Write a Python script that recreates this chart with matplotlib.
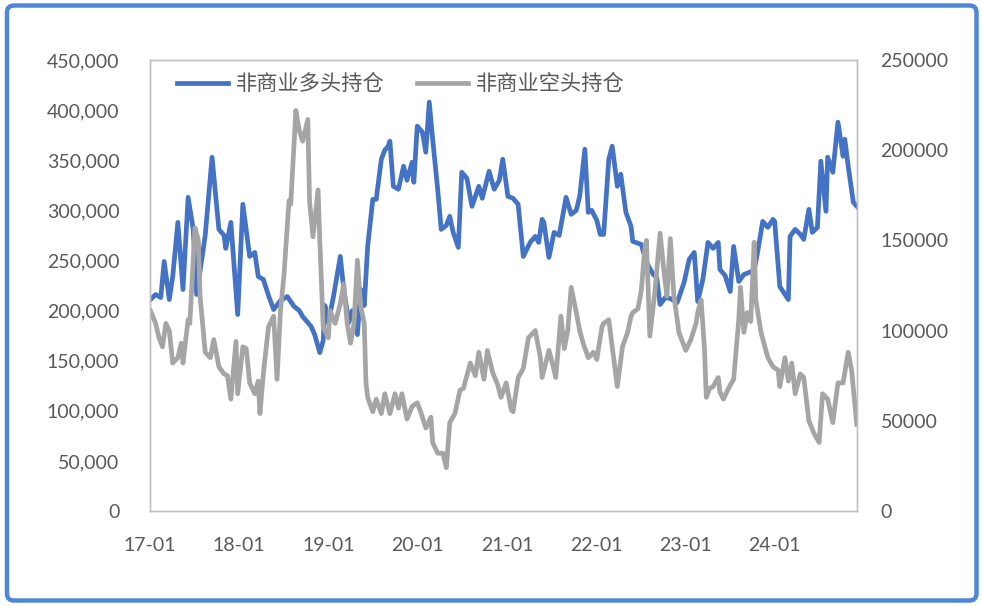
import numpy as np
import pandas as pd
import matplotlib
matplotlib.use("Agg")
import matplotlib.pyplot as plt
import matplotlib.dates as mdates
from matplotlib.ticker import FuncFormatter
from matplotlib.lines import Line2D
from matplotlib.patches import FancyBboxPatch

# Weekly report dates are counted in weeks from the first report
start_date = "2017-01-03"

# Non-commercial long positions (contracts)
long_weeks = [0, 3, 6, 8, 11, 13, 16, 19, 22, 25, 27, 32, 36, 40, 43, 44, 47, 51, 54, 58,
              61, 63, 66, 69, 72, 76, 80, 84, 87, 89, 94, 96, 99, 101, 102, 104, 107, 111, 113, 116,
              118, 121, 123, 125, 127, 130, 132, 135, 137, 139, 140, 142, 145, 148, 150, 153, 154, 156, 159, 161,
              163, 165, 168, 170, 173, 175, 177, 180, 182, 185, 188, 192, 194, 198, 201, 204, 206, 209, 212, 215,
              218, 222, 225, 227, 229, 230, 233, 236, 239, 243, 246, 249, 251, 254, 256, 258, 261, 263, 265, 268,
              270, 273, 275, 278, 281, 282, 287, 290, 294, 296, 298, 301, 304, 308, 312, 315, 318, 320, 323, 326,
              329, 332, 333, 336, 339, 341, 344, 347, 350, 353, 355, 358, 361, 364, 365, 368, 373, 374, 377, 380,
              382, 385, 387, 390, 392, 395, 396, 399, 402, 405, 406, 408, 411, 413]
long_positions = [211000, 216000, 213000, 249000, 211000, 234000, 288000, 221000, 313000, 281000,
                  216000, 275000, 353000, 281000, 275000, 262000, 288000, 196000, 306000, 254000,
                  258000, 234000, 231000, 215000, 201000, 210000, 214000, 204000, 200000, 194000,
                  184000, 176000, 158000, 170000, 205000, 188000, 214000, 254000, 221000, 188000,
                  200000, 176000, 221000, 205000, 264000, 311000, 311000, 351000, 360000, 364000,
                  369000, 324000, 321000, 344000, 330000, 348000, 328000, 384000, 378000, 358000,
                  408000, 371000, 320000, 281000, 285000, 294000, 278000, 263000, 338000, 332000,
                  304000, 324000, 312000, 339000, 321000, 330000, 351000, 314000, 312000, 306000,
                  254000, 268000, 274000, 268000, 291000, 288000, 253000, 278000, 275000, 313000,
                  296000, 300000, 314000, 361000, 298000, 300000, 290000, 276000, 276000, 351000,
                  364000, 324000, 336000, 298000, 284000, 269000, 266000, 248000, 236000, 233000,
                  206000, 213000, 212000, 208000, 228000, 251000, 258000, 209000, 231000, 268000,
                  262000, 268000, 241000, 235000, 219000, 264000, 229000, 236000, 238000, 240000,
                  258000, 289000, 283000, 291000, 289000, 224000, 211000, 274000, 281000, 276000,
                  271000, 301000, 278000, 283000, 349000, 299000, 353000, 338000, 388000, 354000,
                  371000, 344000, 308000, 304000]

# Non-commercial short positions (contracts)
short_weeks = [0, 3, 5, 7, 9, 11, 13, 16, 18, 19, 22, 23, 25, 26, 28, 29, 32, 35, 37, 40,
               43, 45, 47, 50, 51, 54, 56, 58, 61, 63, 64, 66, 69, 72, 74, 76, 78, 81, 82, 85,
               87, 89, 92, 93, 95, 98, 99, 101, 104, 105, 108, 111, 113, 115, 117, 119, 121, 123, 125, 126,
               127, 130, 132, 135, 137, 140, 143, 145, 147, 150, 153, 156, 158, 161, 164, 165, 168, 171, 173, 175,
               178, 181, 183, 187, 190, 192, 195, 197, 200, 203, 205, 208, 211, 212, 215, 218, 221, 225, 228, 229,
               233, 235, 237, 240, 242, 244, 246, 249, 251, 253, 256, 259, 261, 264, 265, 268, 270, 273, 276, 279,
               281, 282, 285, 287, 289, 290, 292, 295, 298, 300, 302, 304, 306, 309, 313, 316, 319, 320, 322, 324,
               325, 327, 329, 332, 333, 335, 338, 341, 344, 345, 347, 349, 351, 353, 354, 357, 361, 364, 367, 368,
               371, 373, 375, 377, 380, 382, 385, 388, 391, 393, 396, 399, 402, 405, 408, 410, 413]
short_positions = [111000, 104000, 96000, 91000, 104000, 100000, 82000, 85000, 93000, 82000,
                   106000, 104000, 140000, 157000, 150000, 119000, 88000, 85000, 95000, 80000,
                   76000, 75000, 62000, 94000, 65000, 91000, 90000, 71000, 65000, 72000,
                   54000, 76000, 102000, 108000, 73000, 111000, 130000, 172000, 170000, 222000,
                   211000, 205000, 217000, 172000, 152000, 178000, 150000, 102000, 96000, 111000,
                   104000, 115000, 126000, 104000, 93000, 104000, 139000, 113000, 104000, 71000,
                   63000, 55000, 62000, 54000, 65000, 54000, 65000, 57000, 65000, 51000,
                   58000, 60000, 55000, 46000, 52000, 38000, 32000, 32000, 24000, 49000,
                   54000, 67000, 68000, 82000, 75000, 88000, 73000, 89000, 77000, 70000,
                   63000, 71000, 56000, 55000, 74000, 79000, 96000, 100000, 85000, 74000,
                   89000, 82000, 74000, 108000, 90000, 100000, 124000, 110000, 100000, 93000,
                   85000, 88000, 84000, 102000, 104000, 106000, 91000, 69000, 91000, 99000,
                   108000, 110000, 112000, 122000, 145000, 150000, 97000, 122000, 154000, 135000,
                   119000, 151000, 120000, 99000, 89000, 95000, 104000, 110000, 117000, 89000,
                   63000, 68000, 69000, 74000, 66000, 62000, 68000, 73000, 106000, 124000,
                   99000, 110000, 105000, 149000, 117000, 99000, 85000, 80000, 78000, 69000,
                   85000, 72000, 82000, 65000, 76000, 74000, 50000, 43000, 38000, 65000,
                   62000, 49000, 71000, 71000, 88000, 78000, 48000]

series_names = ["非商业多头持仓", "非商业空头持仓"]
left_ticks = [0, 50000, 100000, 150000, 200000, 250000, 300000, 350000, 400000, 450000]
right_ticks = [0, 50000, 100000, 150000, 200000, 250000]
year_ticks = ["2017-01-01", "2018-01-01", "2019-01-01", "2020-01-01",
              "2021-01-01", "2022-01-01", "2023-01-01", "2024-01-01"]

long_color = "#4472C4"
short_color = "#A5A5A5"
text_color = "#595959"
frame_color = "#BFBFBF"

plt.rcParams["font.family"] = ["Lato", "Noto Sans CJK SC", "DejaVu Sans"]

base = pd.Timestamp(start_date)
long_dates = base + pd.to_timedelta(np.array(long_weeks) * 7, unit="D")
short_dates = base + pd.to_timedelta(np.array(short_weeks) * 7, unit="D")

W, H = 982, 606
fig = plt.figure(figsize=(W / 100, H / 100), dpi=100)
ax = fig.add_axes([150 / W, 1 - 511 / H, (857 - 150) / W, (511 - 60) / H])
ax2 = ax.twinx()

line_w = 3.4
ax.plot(long_dates, long_positions, color=long_color, lw=line_w, solid_joinstyle="round")
ax2.plot(short_dates, short_positions, color=short_color, lw=line_w, solid_joinstyle="round")

ax.set_ylim(0, 450000)
ax2.set_ylim(0, 250000)
ax.set_yticks(left_ticks)
ax2.set_yticks(right_ticks)
ax.yaxis.set_major_formatter(FuncFormatter(lambda v, p: f"{int(v):,}"))
ax2.yaxis.set_major_formatter(FuncFormatter(lambda v, p: f"{int(v)}"))

ax.set_xlim(pd.Timestamp("2017-01-01"), pd.Timestamp("2024-12-04"))
ax.set_xticks(pd.to_datetime(year_ticks))
ax.xaxis.set_major_formatter(mdates.DateFormatter("%y-%m"))

for a in (ax, ax2):
    for s in a.spines.values():
        s.set_color(frame_color)
        s.set_linewidth(1.0)
    a.tick_params(length=0, labelsize=14, labelcolor=text_color)
ax.tick_params(axis="y", pad=22)
ax2.tick_params(axis="y", pad=17)
ax.tick_params(axis="x", pad=19)

handles = [Line2D([], [], color=long_color, lw=line_w),
           Line2D([], [], color=short_color, lw=line_w)]
leg = fig.legend(handles, series_names, loc="center left",
                 bbox_to_anchor=(158 / W, 1 - 84 / H), ncol=2, frameon=False,
                 handlelength=2.4, handletextpad=0.35, columnspacing=1.55,
                 prop={"family": ["Noto Sans CJK SC"], "size": 15.3})
for t in leg.get_texts():
    t.set_color(text_color)

# Rounded blue outline around the whole chart
border = FancyBboxPatch((7 / 100, 5.5 / 100), (976.5 - 7) / 100, (600.5 - 5.5) / 100,
                        boxstyle="round,pad=0,rounding_size=0.07",
                        transform=fig.dpi_scale_trans, fill=False,
                        edgecolor="#4F87D7", linewidth=3.2)
fig.patches.append(border)

fig.savefig("out.png", dpi=100, facecolor="white")
